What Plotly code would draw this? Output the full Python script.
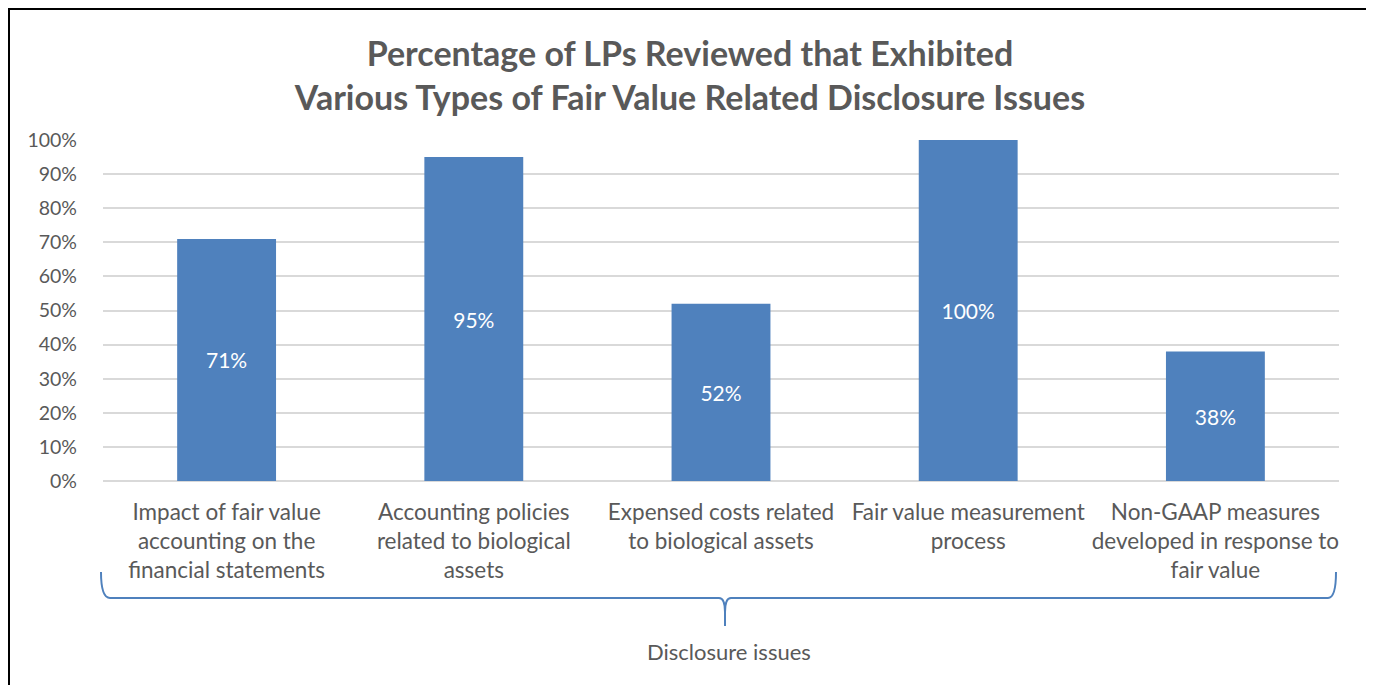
import plotly.graph_objects as go

categories = [
    "Impact of fair value<br>accounting on the<br>financial statements",
    "Accounting policies<br>related to biological<br>assets",
    "Expensed costs related<br>to biological assets",
    "Fair value measurement<br>process",
    "Non-GAAP measures<br>developed in response to<br>fair value",
]
values = [71, 95, 52, 100, 38]
value_labels = ["71%", "95%", "52%", "100%", "38%"]
y_ticks = [0, 10, 20, 30, 40, 50, 60, 70, 80, 90, 100]
y_tick_labels = [f"{t}%" for t in y_ticks]
title_text = "Percentage of LPs Reviewed that Exhibited<br>Various Types of Fair Value Related Disclosure Issues"
axis_title = "Disclosure issues"

W, H = 1374, 685
OFF = 8  # page offset of the figure (body margin)
L, R, T, B = 103 - OFF, 1339 - OFF, 140 - OFF, 481 - OFF

def px(x):
    return (x - OFF - L) / (R - L)

def py(y):
    return (B - (y - OFF)) / (B - T)

FONT = "Lato, Calibri, sans-serif"
GRAY = "#595959"
BLUE = "#4F81BD"

fig = go.Figure(go.Bar(
    x=list(range(len(categories))),
    y=values,
    text=value_labels,
    textposition="inside",
    insidetextanchor="middle",
    textfont=dict(color="white", size=21, family=FONT),
    marker=dict(color=BLUE, line=dict(width=0)),
    width=0.4,
    hoverinfo="skip",
))

def P(x, y):
    return f"{px(x):.5f},{py(y):.5f}"

brace = (
    f"M {P(101,572)} Q {P(101,598)} {P(110,598)} L {P(719,598)} "
    f"Q {P(725,598)} {P(725,612)} L {P(725,626)} "
    f"M {P(725,612)} Q {P(725,598)} {P(731,598)} L {P(1328,598)} "
    f"Q {P(1336,598)} {P(1336,572)}"
)

fig.update_layout(
    width=W, height=H,
    margin=dict(l=L, r=W - R, t=T, b=H - B, pad=0),
    paper_bgcolor="white", plot_bgcolor="white",
    showlegend=False,
    bargap=0.6,
    title=dict(text=title_text, x=(690 - OFF) / W, xanchor="center", y=1 - (66 - OFF) / H, yanchor="middle",
               font=dict(family=FONT, size=34, color=GRAY, weight="bold")),
    xaxis=dict(
        tickmode="array", tickvals=list(range(len(categories))), ticktext=categories,
        range=[-0.5, len(categories) - 0.5],
        tickfont=dict(family=FONT, size=22.5, color=GRAY),
        showgrid=False, zeroline=False, showline=False, ticks="",
        tickangle=0, ticklabelstandoff=15,
    ),
    yaxis=dict(
        range=[0, 100], tickvals=y_ticks, ticktext=y_tick_labels,
        tickfont=dict(family=FONT, size=19.5, color=GRAY),
        showgrid=True, gridcolor="#D9D9D9", gridwidth=1.5,
        zeroline=True, zerolinecolor="#D9D9D9", zerolinewidth=1.5,
        showline=False, ticks="", ticklabelstandoff=25,
    ),
    shapes=[
        dict(type="rect", xref="paper", yref="paper",
             x0=px(9), x1=px(1369), y0=py(700), y1=py(9),
             line=dict(color="black", width=2), fillcolor="rgba(0,0,0,0)", layer="above"),
        dict(type="path", xref="paper", yref="paper", path=brace,
             line=dict(color=BLUE, width=2)),
    ],
    annotations=[
        dict(text=axis_title, xref="paper", yref="paper", x=px(729), y=py(651),
             xanchor="center", yanchor="middle", showarrow=False,
             font=dict(family=FONT, size=22, color=GRAY)),
    ],
)

fig.write_html("out.html")
